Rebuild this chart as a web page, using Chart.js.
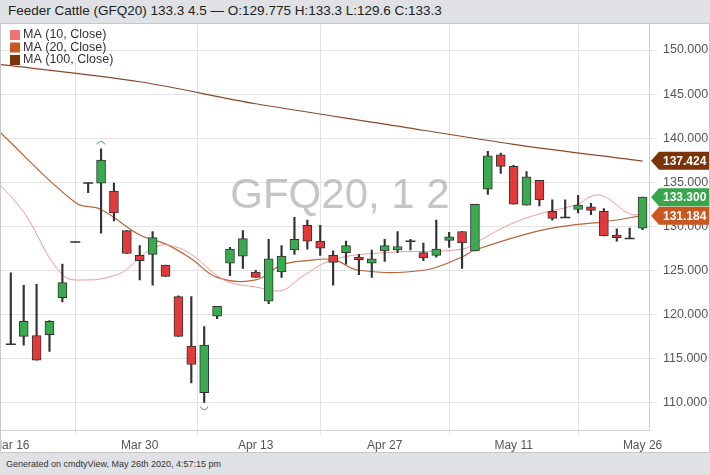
<!DOCTYPE html>
<html><head><meta charset="utf-8">
<script src="https://cdn.jsdelivr.net/npm/chart.js@4.4.1/dist/chart.umd.min.js"></script>
<style>
html,body{margin:0;padding:0;background:#dfe1e4;width:710px;height:475px;overflow:hidden;font-family:"Liberation Sans",Arial,sans-serif}
#title{position:absolute;left:8px;top:3px;font-size:13.5px;color:#222}
#panel{position:absolute;left:0;top:23px;width:708px;height:428px;background:#fff;border:1px solid #c8c8c8;overflow:hidden}
#wrap{position:absolute;left:-13px;top:-13px;width:723px;height:446px}
#foot{position:absolute;left:6px;top:459px;font-size:9px;color:#333}
</style></head><body>
<div id="title">Feeder Cattle (GFQ20) 133.3 4.5 — O:129.775 H:133.3 L:129.6 C:133.3</div>
<div id="panel"><div id="wrap"><canvas id="c"></canvas></div></div>
<div id="foot">Generated on cmdtyView, May 26th 2020, 4:57:15 pm</div>
<script>
const tickIdx = [1, 11, 20, 30, 40, 50];
const tickLabels = ["Mar 16", "Mar 30", "Apr 13", "Apr 27", "May 11", "May 26"];
const opens  = [116.6,117.5,117.6,117.7,121.9,128.2,134.9,134.9,134.0,129.5,126.7,126.8,125.6,122.0,116.4,111.1,119.8,125.8,126.6,124.8,121.5,124.8,127.3,130.1,128.3,126.7,127.0,126.5,125.8,127.2,127.3,128.3,127.0,126.7,128.4,129.4,127.2,134.2,138.1,136.8,132.4,135.2,131.7,131.0,131.9,132.2,131.7,129.0,128.6,129.775];
const highs  = [124.7,123.3,123.4,119.3,125.7,128.2,134.9,138.8,134.9,129.5,127.8,129.4,125.6,122.1,122.0,118.6,120.9,127.6,129.5,125.0,128.5,127.8,131.0,130.7,130.1,127.2,128.3,126.8,127.3,128.5,129.4,128.5,128.1,130.7,129.3,129.4,132.5,138.5,138.3,136.9,136.2,135.2,133.0,133.0,133.5,132.6,132.0,129.7,129.8,133.3];
const lows   = [116.6,116.5,114.8,115.8,121.4,128.2,133.8,129.2,130.6,126.9,123.9,123.3,124.3,117.5,112.2,110.0,119.5,124.4,125.2,124.2,121.2,124.2,126.8,127.4,126.7,123.3,125.7,124.5,124.2,126.0,127.0,127.3,126.1,126.5,127.6,125.2,127.2,133.6,136.0,132.5,132.4,132.3,130.7,131.0,131.5,131.3,128.9,128.3,128.6,129.6];
const closes = [116.6,119.2,114.8,119.2,123.6,128.2,134.9,137.5,131.5,126.9,126.1,128.7,124.3,117.5,114.3,116.5,120.9,127.4,128.6,124.2,126.3,126.6,128.5,128.3,127.5,125.9,127.8,126.2,126.3,127.8,127.7,128.3,126.4,127.4,128.8,128.1,132.5,138.0,136.8,132.5,135.6,133.0,130.9,131.0,132.4,131.8,128.9,128.7,128.6,133.3];
const ma10X = [0,2,5,7,9,10,11,12.5,13.7,15,17,18,20,22,23.5,26,30,36,37.5,39.7,42,45,46,47,49,50];
const ma10Y = [135.0,131.6,124.5,123.9,124.4,125.1,126.5,127.8,127.7,126.8,124.4,123.6,123.1,122.7,124.2,126.2,127.0,127.4,128.5,130.2,131.4,132.5,133.4,133.4,131.4,131.4];
const ma20X = [0,6,8,11,13,15,17,20,22,24,26,28,33,36,37,42,45,47,50];
const ma20Y = [140.9,132.7,131.9,129.0,128.0,126.3,124.2,123.9,125.6,126.1,126.2,125.0,125.0,126.5,127.3,129.5,130.2,130.5,131.2];
const ma100X = [0,11,20,30,40,50];
const ma100Y = [148.4,146.4,143.9,141.6,139.3,137.4];
const tags = [{v:137.424,c:"#7b3309"},{v:133.3,c:"#3aa64b"},{v:131.184,c:"#c9571f"}];

const idx = opens.map((_, i) => i + 1);
const up = idx.map((_, i) => closes[i] >= opens[i]);
const bodyData = idx.map((x, i) => ({x, y: [opens[i], closes[i]]}));
const wickData = idx.map((x, i) => ({x, y: [lows[i], highs[i]]}));
const dojiData = idx.filter((_, i) => Math.abs(opens[i] - closes[i]) < 0.05).map(x => ({x, y: opens[x - 1]}));
const pts = (X, Y) => X.map((x, i) => ({x, y: Y[i]}));

const overlay = {
  id: 'overlay',
  beforeDatasetsDraw(ch) {
    const {ctx} = ch;
    ctx.save();
    ctx.fillStyle = 'rgba(150,150,150,0.55)';
    ctx.font = '42px "Liberation Sans", Arial';
    ctx.textAlign = 'center'; ctx.textBaseline = 'middle';
    ctx.fillText('GFQ20, 1 2', 352, 185);
    ctx.restore();
  },
  afterDraw(ch) {
    const {ctx, chartArea: a, scales: {x, y}} = ch;
    ctx.save();
    ctx.strokeStyle = '#3aa64b'; ctx.lineWidth = 1;
    let hx = x.getPixelForValue(8), hy = y.getPixelForValue(138.8);
    ctx.beginPath(); ctx.arc(hx, hy - 3, 4, Math.PI * 1.1, Math.PI * 1.9); ctx.stroke();
    let lx = x.getPixelForValue(16), ly = y.getPixelForValue(110.0);
    ctx.beginPath(); ctx.arc(lx, ly + 3, 4, Math.PI * 0.1, Math.PI * 0.9); ctx.stroke();
    const L = [["MA (10, Close)", "#ef7272"], ["MA (20, Close)", "#c9571f"], ["MA (100, Close)", "#7b3309"]];
    ctx.font = '12.5px "Liberation Sans", Arial'; ctx.textBaseline = 'middle'; ctx.textAlign = 'left';
    L.forEach((l, i) => {
      const yy = 24 + i * 12.5;
      ctx.fillStyle = l[1]; ctx.fillRect(22, yy - 5, 10, 10);
      ctx.fillStyle = '#333'; ctx.fillText(l[0], 35, yy);
    });
    ctx.font = 'bold 12px "Liberation Sans", Arial';
    tags.forEach(t => {
      const py = y.getPixelForValue(t.v), x0 = a.right + 2;
      ctx.fillStyle = t.c; ctx.beginPath();
      ctx.moveTo(x0, py); ctx.lineTo(x0 + 8, py - 9); ctx.lineTo(x0 + 62, py - 9);
      ctx.lineTo(x0 + 62, py + 9); ctx.lineTo(x0 + 8, py + 9); ctx.closePath(); ctx.fill();
      ctx.fillStyle = '#fff'; ctx.textAlign = 'left'; ctx.fillText(t.v.toFixed(3), x0 + 12, py + 1);
    });
    ctx.restore();
  }
};

new Chart(document.getElementById('c'), {
  data: {
    datasets: [
      {type: 'line', data: pts(ma100X, ma100Y), borderColor: '#8a4a2a', borderWidth: 1.2, pointRadius: 0, tension: 0.3, order: 5},
      {type: 'line', data: pts(ma20X, ma20Y), borderColor: '#b8653a', borderWidth: 1.2, pointRadius: 0, tension: 0.4, order: 4},
      {type: 'line', data: pts(ma10X, ma10Y), borderColor: '#ee9a9a', borderWidth: 1, pointRadius: 0, tension: 0.4, order: 3},
      {type: 'bar', data: wickData, backgroundColor: '#333', barThickness: 1.5, grouped: false, order: 2},
      {type: 'bar', data: bodyData, backgroundColor: up.map(u => u ? '#3aaa4e' : '#e03a3a'), borderColor: '#333', borderWidth: 1, borderSkipped: false, barThickness: 9, grouped: false, order: 1},
      {type: 'scatter', data: dojiData, pointStyle: 'line', radius: 5, borderColor: '#333', borderWidth: 1.5, order: 0}
    ]
  },
  options: {
    responsive: true, maintainAspectRatio: false, animation: false,
    layout: {padding: 0},
    plugins: {legend: {display: false}, tooltip: {enabled: false}},
    scales: {
      x: {type: 'linear', min: 0, max: 50.5, offset: false,
          afterBuildTicks: s => { s.ticks = tickIdx.map(v => ({value: v})); },
          ticks: {callback: v => tickLabels[tickIdx.indexOf(v)], color: '#555', font: {size: 12, family: '"Liberation Sans", Arial'}, maxRotation: 0, padding: 4},
          grid: {color: '#e3e3e3', drawTicks: true, tickLength: 4}, border: {color: '#d0d0d0'}},
      y: {position: 'right', min: 106.8, max: 152.9,
          afterBuildTicks: s => { s.ticks = [110,115,120,125,130,135,140,145,150].map(v => ({value: v})); },
          ticks: {callback: v => v.toFixed(3), color: '#555', font: {size: 12.5, family: '"Liberation Sans", Arial'}, padding: 6},
          afterFit: s => { s.width = 62; },
          grid: {color: '#e3e3e3'}, border: {color: '#d0d0d0'}}
    }
  },
  plugins: [overlay]
});
</script></body></html>
